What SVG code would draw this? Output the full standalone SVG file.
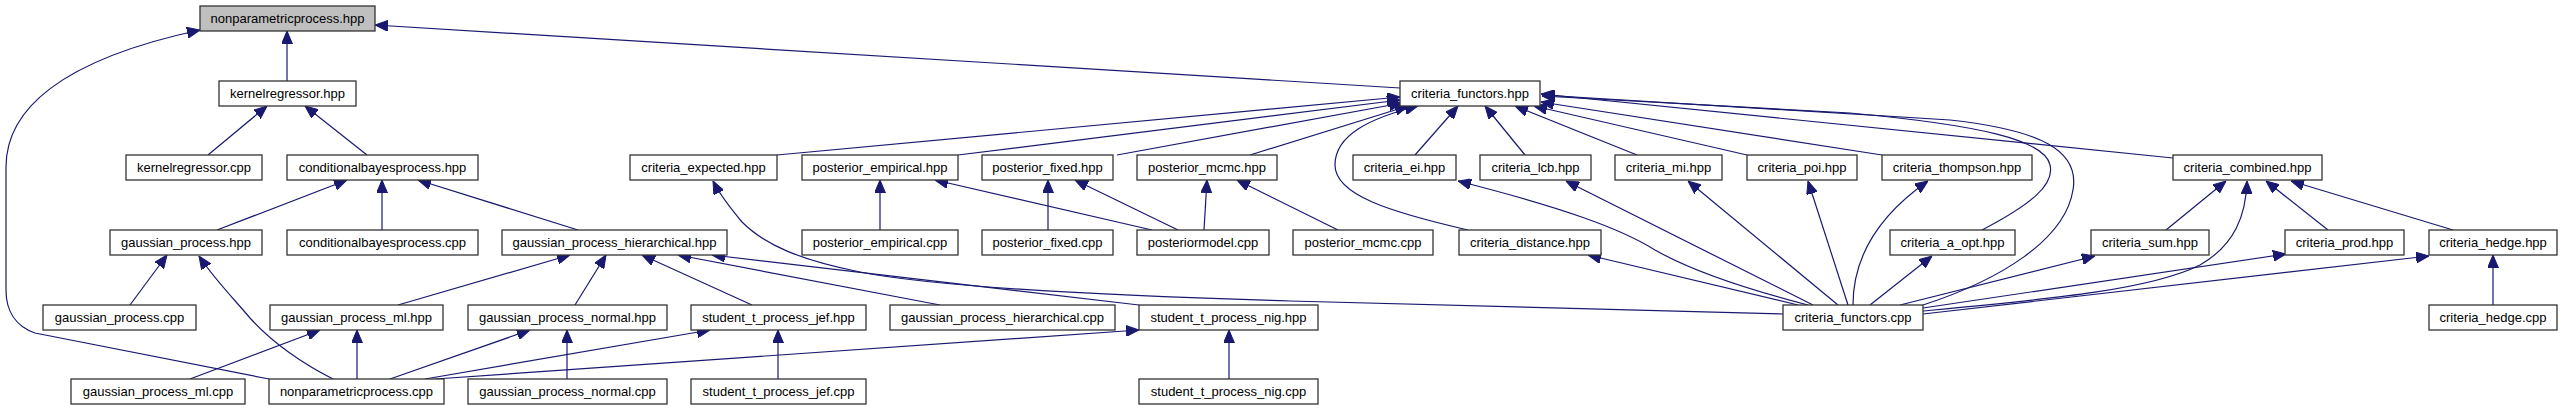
<svg xmlns="http://www.w3.org/2000/svg" width="2562" height="411" viewBox="0 0 2562 411">
<style>
.node rect{fill:#ffffff;stroke:#333333;stroke-width:1.3}
.node.root rect{fill:#bfbfbf}
.node text{font-family:"Liberation Sans",Arial,Helvetica,sans-serif;font-size:13px;text-anchor:middle;fill:#000000}
.edges path{fill:none;stroke:#191970;stroke-width:1.2;marker-end:url(#arr)}
</style>
<defs>
<marker id="arr" viewBox="0 0 13 11" refX="13" refY="5.5" markerWidth="13" markerHeight="11" markerUnits="userSpaceOnUse" orient="auto">
<path d="M0,0 L13,5.5 L0,11 Z" fill="#191970" stroke="#191970" stroke-width="1"/>
</marker>
</defs>
<rect x="0" y="0" width="2562" height="411" fill="#ffffff"/>
<g class="edges" id="edges">
<path d="M287,81 L287,31"/>
<path d="M1400,88 L375,25"/>
<path d="M269,379 L35,333 C15,326 6,310 6,290 L6,167 C6,110 60,60 200,30"/>
<path d="M208,155 L267,106"/>
<path d="M367,155 L305,106"/>
<path d="M217,230 L347,180"/>
<path d="M382,230 L382,180"/>
<path d="M578,230 L418,180"/>
<path d="M130,305 L167,255"/>
<path d="M333,379 C300,362 270,340 250,318 C235,300 215,280 199,256"/>
<path d="M190,379 L320,330"/>
<path d="M357,379 L357,330"/>
<path d="M398,305 L570,255"/>
<path d="M575,305 L606,255"/>
<path d="M752,305 L642,255"/>
<path d="M940,305 L678,255"/>
<path d="M1139,305 L712,255"/>
<path d="M390,379 L530,330"/>
<path d="M425,379 L710,330"/>
<path d="M435,379 L1139,330"/>
<path d="M567,379 L567,330"/>
<path d="M778,379 L778,330"/>
<path d="M1229,379 L1229,330"/>
<path d="M777,155 L1400,97"/>
<path d="M958,155 L1400,100"/>
<path d="M1117,155 L1402,103"/>
<path d="M1250,155 L1408,106"/>
<path d="M880,230 L880,180"/>
<path d="M1152,230 L935,180"/>
<path d="M1048,230 L1048,180"/>
<path d="M1178,230 L1075,180"/>
<path d="M1204,230 L1207,180"/>
<path d="M1338,230 L1237,180"/>
<path d="M1415,155 L1458,106"/>
<path d="M1468,230 C1390,212 1335,195 1335,165 C1335,135 1370,118 1418,106"/>
<path d="M1525,155 L1485,106"/>
<path d="M1637,155 L1515,106"/>
<path d="M1747,155 L1534,106"/>
<path d="M1882,155 L1541,102"/>
<path d="M2173,158 L1541,94"/>
<path d="M1982,230 C2030,205 2055,185 2050,165 C2045,140 1980,125 1850,113 L1542,96"/>
<path d="M1923,305 C2000,280 2065,240 2073,190 C2080,150 2040,130 1950,120 L1542,95"/>
<path d="M1783,314 L1290,301 C1050,294 920,284 860,272 C800,260 765,245 742,222 C732,210 720,195 713,181"/>
<path d="M1808,305 C1750,290 1690,270 1655,250 C1620,228 1560,207 1458,181"/>
<path d="M1798,305 L1588,255"/>
<path d="M1813,305 L1566,181"/>
<path d="M1838,305 L1688,181"/>
<path d="M1848,305 L1808,181"/>
<path d="M1853,305 C1853,260 1875,218 1928,181"/>
<path d="M1870,305 L1932,256"/>
<path d="M1900,305 L2095,256"/>
<path d="M1923,311 C2050,299 2150,290 2200,265 C2235,245 2246,215 2247,181"/>
<path d="M1923,308 L2286,254"/>
<path d="M1923,314 L2429,256"/>
<path d="M2166,230 L2226,181"/>
<path d="M2328,230 L2266,181"/>
<path d="M2453,230 L2291,181"/>
<path d="M2493,305 L2493,255"/>
</g>
<g id="n_nonparametricprocess_hpp" class="node root"><rect x="200" y="6" width="175" height="25"/><text x="287.5" y="22.5">nonparametricprocess.hpp</text></g>
<g id="n_kernelregressor_hpp" class="node"><rect x="219" y="81" width="137" height="25"/><text x="287.5" y="97.5">kernelregressor.hpp</text></g>
<g id="n_criteria_functors_hpp" class="node"><rect x="1400" y="81" width="140" height="25"/><text x="1470" y="97.5">criteria_functors.hpp</text></g>
<g id="n_kernelregressor_cpp" class="node"><rect x="126" y="155" width="136" height="25"/><text x="194" y="171.5">kernelregressor.cpp</text></g>
<g id="n_conditionalbayesprocess_hpp" class="node"><rect x="287" y="155" width="191" height="25"/><text x="382.5" y="171.5">conditionalbayesprocess.hpp</text></g>
<g id="n_criteria_expected_hpp" class="node"><rect x="630" y="155" width="147" height="25"/><text x="703.5" y="171.5">criteria_expected.hpp</text></g>
<g id="n_posterior_empirical_hpp" class="node"><rect x="802" y="155" width="156" height="25"/><text x="880" y="171.5">posterior_empirical.hpp</text></g>
<g id="n_posterior_fixed_hpp" class="node"><rect x="982" y="155" width="131" height="25"/><text x="1047.5" y="171.5">posterior_fixed.hpp</text></g>
<g id="n_posterior_mcmc_hpp" class="node"><rect x="1137" y="155" width="140" height="25"/><text x="1207" y="171.5">posterior_mcmc.hpp</text></g>
<g id="n_criteria_ei_hpp" class="node"><rect x="1353" y="155" width="103" height="25"/><text x="1404.5" y="171.5">criteria_ei.hpp</text></g>
<g id="n_criteria_lcb_hpp" class="node"><rect x="1480" y="155" width="111" height="25"/><text x="1535.5" y="171.5">criteria_lcb.hpp</text></g>
<g id="n_criteria_mi_hpp" class="node"><rect x="1615" y="155" width="107" height="25"/><text x="1668.5" y="171.5">criteria_mi.hpp</text></g>
<g id="n_criteria_poi_hpp" class="node"><rect x="1747" y="155" width="110" height="25"/><text x="1802" y="171.5">criteria_poi.hpp</text></g>
<g id="n_criteria_thompson_hpp" class="node"><rect x="1882" y="155" width="150" height="25"/><text x="1957" y="171.5">criteria_thompson.hpp</text></g>
<g id="n_criteria_combined_hpp" class="node"><rect x="2173" y="155" width="149" height="25"/><text x="2247.5" y="171.5">criteria_combined.hpp</text></g>
<g id="n_gaussian_process_hpp" class="node"><rect x="110" y="230" width="152" height="25"/><text x="186" y="246.5">gaussian_process.hpp</text></g>
<g id="n_conditionalbayesprocess_cpp" class="node"><rect x="287" y="230" width="191" height="25"/><text x="382.5" y="246.5">conditionalbayesprocess.cpp</text></g>
<g id="n_gaussian_process_hierarchical_hpp" class="node"><rect x="502" y="230" width="225" height="25"/><text x="614.5" y="246.5">gaussian_process_hierarchical.hpp</text></g>
<g id="n_posterior_empirical_cpp" class="node"><rect x="802" y="230" width="156" height="25"/><text x="880" y="246.5">posterior_empirical.cpp</text></g>
<g id="n_posterior_fixed_cpp" class="node"><rect x="982" y="230" width="131" height="25"/><text x="1047.5" y="246.5">posterior_fixed.cpp</text></g>
<g id="n_posteriormodel_cpp" class="node"><rect x="1137" y="230" width="132" height="25"/><text x="1203" y="246.5">posteriormodel.cpp</text></g>
<g id="n_posterior_mcmc_cpp" class="node"><rect x="1293" y="230" width="140" height="25"/><text x="1363" y="246.5">posterior_mcmc.cpp</text></g>
<g id="n_criteria_distance_hpp" class="node"><rect x="1459" y="230" width="142" height="25"/><text x="1530" y="246.5">criteria_distance.hpp</text></g>
<g id="n_criteria_a_opt_hpp" class="node"><rect x="1890" y="230" width="125" height="25"/><text x="1952.5" y="246.5">criteria_a_opt.hpp</text></g>
<g id="n_criteria_sum_hpp" class="node"><rect x="2091" y="230" width="118" height="25"/><text x="2150" y="246.5">criteria_sum.hpp</text></g>
<g id="n_criteria_prod_hpp" class="node"><rect x="2285" y="230" width="119" height="25"/><text x="2344.5" y="246.5">criteria_prod.hpp</text></g>
<g id="n_criteria_hedge_hpp" class="node"><rect x="2429" y="230" width="128" height="25"/><text x="2493" y="246.5">criteria_hedge.hpp</text></g>
<g id="n_gaussian_process_cpp" class="node"><rect x="43" y="305" width="153" height="25"/><text x="119.5" y="321.5">gaussian_process.cpp</text></g>
<g id="n_gaussian_process_ml_hpp" class="node"><rect x="270" y="305" width="173" height="25"/><text x="356.5" y="321.5">gaussian_process_ml.hpp</text></g>
<g id="n_gaussian_process_normal_hpp" class="node"><rect x="468" y="305" width="199" height="25"/><text x="567.5" y="321.5">gaussian_process_normal.hpp</text></g>
<g id="n_student_t_process_jef_hpp" class="node"><rect x="691" y="305" width="175" height="25"/><text x="778.5" y="321.5">student_t_process_jef.hpp</text></g>
<g id="n_gaussian_process_hierarchical_cpp" class="node"><rect x="890" y="305" width="225" height="25"/><text x="1002.5" y="321.5">gaussian_process_hierarchical.cpp</text></g>
<g id="n_student_t_process_nig_hpp" class="node"><rect x="1139" y="305" width="179" height="25"/><text x="1228.5" y="321.5">student_t_process_nig.hpp</text></g>
<g id="n_criteria_functors_cpp" class="node"><rect x="1783" y="305" width="140" height="25"/><text x="1853" y="321.5">criteria_functors.cpp</text></g>
<g id="n_criteria_hedge_cpp" class="node"><rect x="2429" y="305" width="128" height="25"/><text x="2493" y="321.5">criteria_hedge.cpp</text></g>
<g id="n_gaussian_process_ml_cpp" class="node"><rect x="71" y="379" width="174" height="25"/><text x="158" y="395.5">gaussian_process_ml.cpp</text></g>
<g id="n_nonparametricprocess_cpp" class="node"><rect x="269" y="379" width="175" height="25"/><text x="356.5" y="395.5">nonparametricprocess.cpp</text></g>
<g id="n_gaussian_process_normal_cpp" class="node"><rect x="468" y="379" width="199" height="25"/><text x="567.5" y="395.5">gaussian_process_normal.cpp</text></g>
<g id="n_student_t_process_jef_cpp" class="node"><rect x="691" y="379" width="175" height="25"/><text x="778.5" y="395.5">student_t_process_jef.cpp</text></g>
<g id="n_student_t_process_nig_cpp" class="node"><rect x="1139" y="379" width="179" height="25"/><text x="1228.5" y="395.5">student_t_process_nig.cpp</text></g>
</svg>
